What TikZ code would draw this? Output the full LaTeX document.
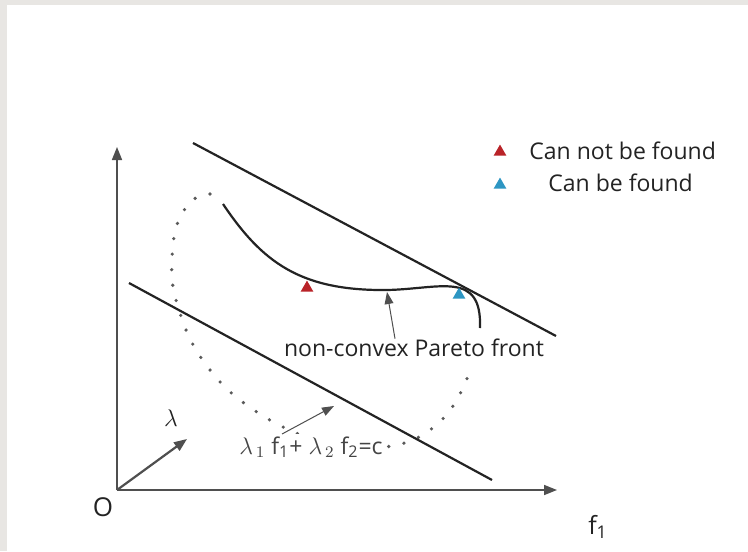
\documentclass[tikz,border=0pt]{standalone}
\usepackage{fontspec}
\setmainfont{Open Sans}
\usetikzlibrary{arrows.meta,shapes.geometric}
\definecolor{lostRed}{RGB}{185,35,40}
\definecolor{foundBlue}{RGB}{45,150,195}
\definecolor{frameGray}{RGB}{232,230,227}
\definecolor{inkGray}{RGB}{35,35,35}

\begin{document}
\begin{tikzpicture}[x=0.5pt,y=-0.5pt,
  axis/.style={draw=inkGray!80,line width=0.8pt,-{Triangle[length=6.5pt,width=5pt]}},
  bound/.style={draw=inkGray,line width=1.1pt},
  front/.style={draw=inkGray,line width=1.1pt},
  region/.style={draw=inkGray!75,line width=1.8pt,line cap=round,dash pattern=on 0pt off 7.8pt},
  pointer/.style={draw=inkGray!80,line width=0.5pt,-{Triangle[length=6pt,width=4.4pt]}},
  lbl/.style={text=inkGray,font=\fontsize{11.5}{13}\selectfont,inner sep=0pt},
  tri/.style={regular polygon,regular polygon sides=3,minimum size=7.4pt,inner sep=0pt}
]
  \fill[frameGray](0,0) rectangle (748,551);
  \fill[white](7,5) rectangle (748,551);

  \coordinate (O) at (117,490);
  \coordinate (yTip) at (117,147);
  \coordinate (xTip) at (557,490);
  \coordinate (lamTip) at (187,439);
  \coordinate (uA) at (193,143);
  \coordinate (uB) at (556,336);
  \coordinate (lA) at (129,283);
  \coordinate (lB) at (492,480);
  \coordinate (pfTip) at (387,292);
  \coordinate (lnTip) at (334,406);

  \draw[region] plot[smooth,tension=0.7] coordinates {(210,194) (194,199) (183,212) (176,228)
    (173,245) (172,262) (172,279) (175,296) (180,313) (186,330) (195,348) (207,366)
    (222,384) (240,400) (260,414) (285,428) (315,440) (350,448) (385,447) (410,441)
    (430,430) (447,414) (460,394) (470,371)};

  \node[lbl,fill=white,text=inkGray!85,inner sep=1pt](lblLine) at (311,447)
    {$\lambda_{\,1}$ f\textsubscript{1}+ $\lambda_{\,2}$ f\textsubscript{2}=c};
  \node[lbl](lblPareto) at (414,348) {non-convex Pareto front};
  \node[lbl,font=\fontsize{13}{15}\selectfont](lblO) at (103,507) {O};
  \node[lbl,font=\fontsize{12.5}{15}\selectfont](lblF) at (598,527) {f\textsubscript{1}};
  \node[lbl,font=\fontsize{13}{15}\selectfont](lblLam) at (171,418) {$\lambda$};

  \draw[axis](O)--(yTip);
  \draw[axis](O)--(xTip);
  \draw[axis,line width=1.1pt](O)--(lamTip);
  \draw[bound](uA)--(uB);
  \draw[bound](lA)--(lB);
  \draw[front](223,204) .. controls (262,262) and (300,291) .. (387,290)
    .. controls (440,289) and (482,270) .. (480,328);

  \draw[pointer]([xshift=-9.5pt]lblPareto.north)--(pfTip);
  \draw[pointer]([xshift=-14.5pt]lblLine.north)--(lnTip);

  \node[tri,fill=lostRed](ptLost) at (307,288) {};
  \node[tri,fill=foundBlue](ptFound) at (459,295) {};

  \node[tri,fill=lostRed](keyLost) at (500,152) {};
  \node[tri,fill=foundBlue](keyFound) at (500,185) {};
  \node[lbl,anchor=west](legLost) at (529,151) {Can not be found};
  \node[lbl,anchor=west](legFound) at (548,183) {Can be found};
\end{tikzpicture}
\end{document}
